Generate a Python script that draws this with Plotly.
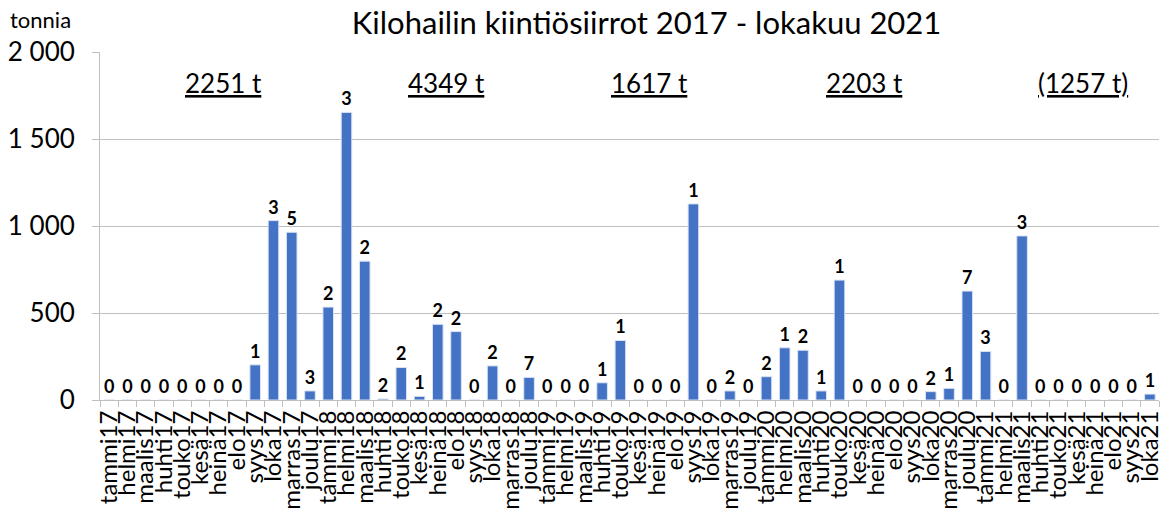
import plotly.graph_objects as go

months = ["tammi", "helmi", "maalis", "huhti", "touko", "kesä",
          "heinä", "elo", "syys", "loka", "marras", "joulu"]
years = ["17", "18", "19", "20", "21"]
categories = [m + y for y in years for m in months][:58]  # tammi17 .. loka21

tonnes = [
    0, 0, 0, 0, 0, 0, 0, 0, 202, 1031, 964, 52,
    534, 1653, 798, 6, 187, 21, 435, 393, 0, 196, 0, 130,
    0, 0, 0, 99, 342, 0, 0, 0, 1127, 0, 52, 0,
    134, 300, 286, 52, 689, 0, 0, 0, 0, 48, 67, 626,
    279, 0, 943, 0, 0, 0, 0, 0, 0, 34,
]
transfers = [
    0, 0, 0, 0, 0, 0, 0, 0, 1, 3, 5, 3,
    2, 3, 2, 2, 2, 1, 2, 2, 0, 2, 0, 7,
    0, 0, 0, 1, 1, 0, 0, 0, 1, 0, 2, 0,
    2, 1, 2, 1, 1, 0, 0, 0, 0, 2, 1, 7,
    3, 0, 3, 0, 0, 0, 0, 0, 0, 1,
]
year_totals = ["2251 t", "4349 t", "1617 t", "2203 t", "(1257 t)"]
y_ticks = [0, 500, 1000, 1500, 2000]
y_ticktext = ["0", "500", "1 000", "1 500", "2 000"]

font = "Lato"

fig = go.Figure()
fig.add_trace(go.Bar(
    x=categories, y=tonnes,
    text=[str(t) for t in transfers], textposition="outside",
    textfont=dict(family=font, size=18, color="black", weight="bold"),
    marker=dict(color="#4472C4", line=dict(color="#dbe4f3", width=1)),
    cliponaxis=False,
))

# year totals above each year
total_x = [0.117, 0.327, 0.519, 0.722, 0.928]
for xp, txt in zip(total_x, year_totals):
    fig.add_annotation(x=xp, y=0.91, xref="paper", yref="paper",
                       xanchor="center", yanchor="middle",
                       text="<u>" + txt + "</u>", showarrow=False,
                       font=dict(family=font, size=26, color="black"))

fig.add_annotation(x=-0.087, y=1.05, xref="paper", yref="paper", xanchor="left",
                   yanchor="bottom", text="tonnia", showarrow=False,
                   font=dict(family=font, size=22, color="black"))

fig.update_layout(
    width=1165, height=512,
    margin=dict(l=100, r=2, t=52, b=111),
    paper_bgcolor="white", plot_bgcolor="white",
    title=dict(text="Kilohailin kiintiösiirrot 2017 - lokakuu 2021",
               x=0.555, xanchor="center", y=0.955, yanchor="middle",
               font=dict(family=font, size=31, color="black")),
    bargap=0.42,
    showlegend=False,
    font=dict(family=font),
)
fig.update_xaxes(
    type="category", tickmode="array", tickvals=categories, ticktext=categories,
    tickangle=-90, tickfont=dict(family=font, size=24, color="black"),
    showline=True, linecolor="#bfbfbf", linewidth=1,
    ticks="outside", tickson="boundaries", ticklen=6, tickcolor="#bfbfbf",
    showgrid=False,
)
fig.update_yaxes(
    range=[0, 2000], tickvals=y_ticks, ticktext=y_ticktext,
    tickfont=dict(family=font, size=26, color="black"),
    showgrid=True, gridcolor="#bfbfbf", gridwidth=1,
    showline=True, linecolor="#bfbfbf", linewidth=1,
    ticks="outside", ticklen=7, tickcolor="#bfbfbf",
    ticklabelstandoff=12,
    zeroline=False,
)

fig.write_html("out.html", config={"displayModeBar": False},
               post_script="document.body.style.margin='0px';")
